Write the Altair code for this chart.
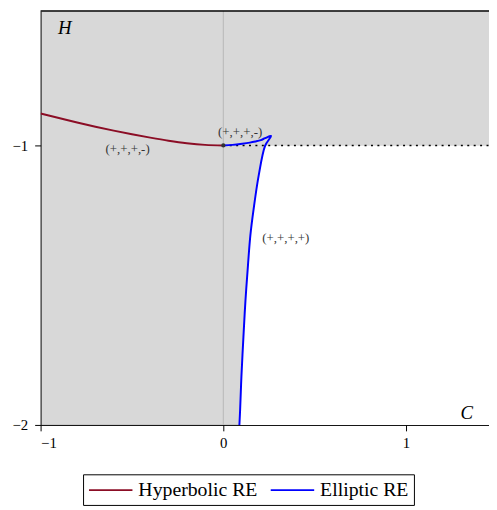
import altair as alt
import pandas as pd

XMIN, XMAX = -1.0, 1.454
YMIN, YMAX = -2.0, -0.5194

series_names = ["Hyperbolic RE", "Elliptic RE"]
series_colors = ["#8b0d25", "#0000ff"]

hyp_c = [-1.0, -0.9, -0.8, -0.7, -0.6, -0.5, -0.4, -0.3, -0.2, -0.1, 0.0]
hyp_h = [-0.886, -0.902, -0.918, -0.933, -0.947, -0.960, -0.972, -0.983, -0.992, -0.998, -1.0]

ell_c = [0.0, 0.05, 0.103, 0.145, 0.175, 0.205, 0.229, 0.261, 0.229, 0.193,
         0.166, 0.148, 0.135, 0.121, 0.110, 0.099, 0.092, 0.088]
ell_h = [-1.0, -0.998, -0.994, -0.990, -0.986, -0.981, -0.974, -0.966, -1.001, -1.110,
         -1.227, -1.322, -1.428, -1.557, -1.686, -1.828, -1.946, -2.0]
LOWER_START = 8

label_text = ["(+,+,+,-)", "(+,+,+,-)", "(+,+,+,+)"]
label_c = [-0.524, 0.092, 0.342]
label_h = [-1.014, -0.952, -1.332]

axis_text = ["H", "C"]
axis_text_c = [-0.868, 1.332]
axis_text_h = [-0.581, -1.958]

x_ticks = [-1, 0, 1]
y_ticks = [-1, -2]

hyp = pd.DataFrame({"C": hyp_c, "H": hyp_h, "series": series_names[0],
                    "idx": list(range(len(hyp_c)))})
ell = pd.DataFrame({"C": ell_c, "H": ell_h, "series": series_names[1],
                    "idx": list(range(len(ell_c)))})
lower = pd.DataFrame({"C": ell_c[LOWER_START:], "H": ell_h[LOWER_START:]})
labels = pd.DataFrame({"C": label_c, "H": label_h, "t": label_text})
axlabels = pd.DataFrame({"C": axis_text_c, "H": axis_text_h, "t": axis_text})
origin = pd.DataFrame({"C": [0.0], "H": [-1.0]})

xs = alt.Scale(domain=[XMIN, XMAX], nice=False, zero=False)
ys = alt.Scale(domain=[YMIN, YMAX], nice=False, zero=False)

xaxis = alt.Axis(values=x_ticks, format="d", grid=False, title=None, domainColor="black",
                 tickColor="black", tickSize=6, labelFont="Liberation Serif",
                 labelFontSize=15, labelColor="black", labelPadding=5)
yaxis = alt.Axis(values=y_ticks, format="d", grid=False, title=None, domainColor="black",
                 tickColor="black", tickSize=6, labelFont="Liberation Serif",
                 labelFontSize=15, labelColor="black", labelPadding=7)

colour = alt.Color("series:N", scale=alt.Scale(domain=series_names, range=series_colors),
                   legend=alt.Legend(orient="none", legendX=43, legendY=469,
                                     direction="horizontal", columns=2, title=None,
                                     symbolType="M-2.2,0H2.2", symbolSize=400,
                                     symbolStrokeWidth=2, symbolOffset=12, labelOffset=17,
                                     labelFont="Liberation Serif", labelFontSize=20,
                                     labelColor="black", labelLimit=0,
                                     strokeColor="black", fillColor="white",
                                     padding=5, columnPadding=9))

white = alt.Chart(lower).mark_area(color="white", orient="horizontal", clip=True,
                                   interpolate="monotone").encode(
    x=alt.X("C:Q", scale=xs, axis=xaxis),
    x2=alt.datum(XMAX),
    y=alt.Y("H:Q", scale=ys, axis=yaxis),
)

vline = alt.Chart(origin).mark_rule(color="#b8b8b8", strokeWidth=1).encode(
    x=alt.X("C:Q", scale=xs))

dotted = alt.Chart(origin).mark_rule(color="black", strokeDash=[2, 4.5], strokeWidth=1.5).encode(
    x=alt.X("C:Q", scale=xs), x2=alt.datum(XMAX), y=alt.Y("H:Q", scale=ys))

red = alt.Chart(hyp).mark_line(strokeWidth=2, clip=True, interpolate="monotone").encode(
    x=alt.X("C:Q", scale=xs), y=alt.Y("H:Q", scale=ys), color=colour, order="idx:Q")

blue = alt.Chart(ell).mark_line(strokeWidth=2, clip=True, interpolate="catmull-rom").encode(
    x=alt.X("C:Q", scale=xs), y=alt.Y("H:Q", scale=ys), color=colour, order="idx:Q")

dot = alt.Chart(origin).mark_point(filled=True, size=18, color="#333333", opacity=1).encode(
    x=alt.X("C:Q", scale=xs), y=alt.Y("H:Q", scale=ys))

txt = alt.Chart(labels).mark_text(font="Liberation Serif", fontSize=13, color="#333333").encode(
    x=alt.X("C:Q", scale=xs), y=alt.Y("H:Q", scale=ys), text="t:N")

axtxt = alt.Chart(axlabels).mark_text(font="Liberation Serif", fontSize=19, fontStyle="italic",
                                      color="black").encode(
    x=alt.X("C:Q", scale=xs), y=alt.Y("H:Q", scale=ys), text="t:N")

top = alt.Chart(origin).mark_rule(color="black", strokeWidth=1.5).encode(
    x=alt.datum(XMIN), x2=alt.datum(XMAX), y=alt.datum(YMAX))

chart = alt.layer(white, vline, dotted, red, blue, dot, txt, axtxt, top).properties(
    width=454, height=419,
    autosize=alt.AutoSizeParams(type="none"),
    padding={"left": 33, "top": 0, "right": 0, "bottom": 83},
).configure_view(fill="#d8d8d8", stroke="transparent")

chart.save("out.html", embed_options={"renderer": "svg", "actions": False})
